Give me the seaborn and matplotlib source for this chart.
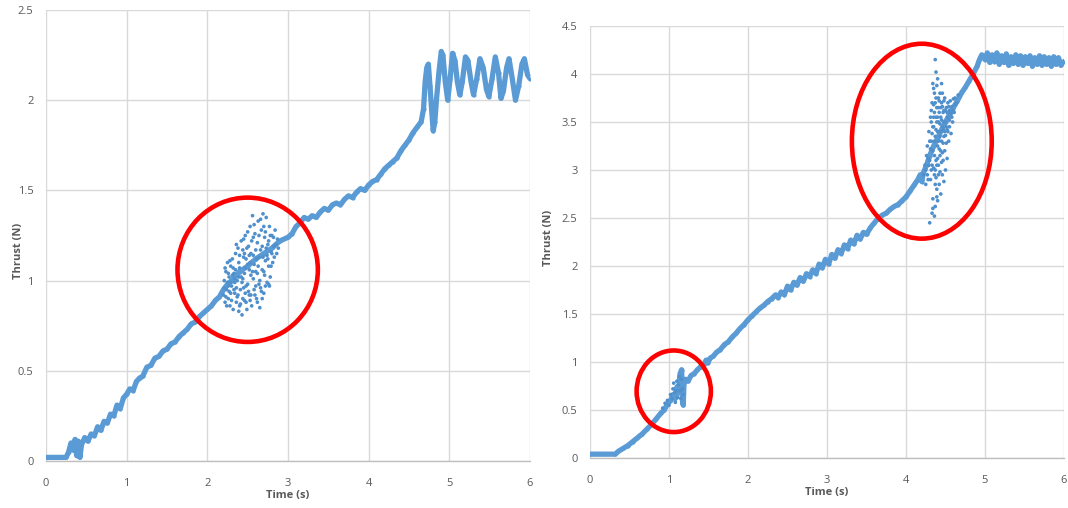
import numpy as np
import pandas as pd
import seaborn as sns
import matplotlib
matplotlib.use("Agg")
import matplotlib.pyplot as plt
from matplotlib.patches import Ellipse

# ---------------- data: left test ----------------
left_t = [0.00, 0.25, 0.28, 0.31, 0.34, 0.36, 0.38, 0.40, 0.42, 0.44, 0.48, 0.52, 0.56, 0.60,
          0.64, 0.68, 0.72, 0.76, 0.80, 0.84, 0.88, 0.92, 0.96, 1.00, 1.04, 1.08, 1.12, 1.16,
          1.20, 1.25, 1.30, 1.35, 1.40, 1.45, 1.50, 1.55, 1.60, 1.65, 1.70, 1.75, 1.80, 1.85,
          1.90, 1.95, 2.00, 2.05, 2.10, 2.15, 2.20, 2.25, 2.30, 2.40, 2.50, 2.60, 2.70, 2.80,
          2.90, 3.00, 3.05, 3.10, 3.15, 3.20, 3.25, 3.30, 3.35, 3.40, 3.45, 3.50, 3.55, 3.60,
          3.65, 3.70, 3.75, 3.80, 3.85, 3.90, 3.95, 4.00, 4.05, 4.10, 4.15, 4.20, 4.25, 4.30,
          4.35, 4.40, 4.45, 4.50, 4.55, 4.60, 4.65, 4.68, 4.70, 4.72, 4.74, 4.76, 4.78, 4.80,
          4.82, 4.84, 4.87, 4.90, 4.92, 4.95, 4.98, 5.01, 5.04, 5.07, 5.10, 5.13, 5.16, 5.20,
          5.23, 5.27, 5.30, 5.34, 5.38, 5.42, 5.46, 5.49, 5.53, 5.57, 5.61, 5.64, 5.67, 5.71,
          5.74, 5.78, 5.82, 5.86, 5.90, 5.93, 5.97, 6.00]
left_y = [0.02, 0.02, 0.05, 0.10, 0.06, 0.12, 0.03, 0.11, 0.02, 0.09, 0.13, 0.11, 0.15, 0.14,
          0.19, 0.17, 0.22, 0.21, 0.26, 0.25, 0.31, 0.29, 0.35, 0.37, 0.40, 0.39, 0.44, 0.46,
          0.47, 0.52, 0.53, 0.57, 0.58, 0.61, 0.62, 0.65, 0.66, 0.69, 0.71, 0.73, 0.76, 0.77,
          0.80, 0.82, 0.84, 0.86, 0.89, 0.91, 0.95, 0.98, 1.00, 1.05, 1.08, 1.12, 1.15, 1.18,
          1.22, 1.24, 1.26, 1.30, 1.32, 1.35, 1.34, 1.36, 1.35, 1.38, 1.40, 1.39, 1.42, 1.43,
          1.42, 1.45, 1.47, 1.46, 1.49, 1.51, 1.50, 1.53, 1.55, 1.56, 1.59, 1.62, 1.64, 1.66,
          1.68, 1.72, 1.75, 1.78, 1.82, 1.85, 1.88, 1.95, 2.10, 2.18, 2.20, 2.08, 1.95, 1.83,
          1.88, 2.00, 2.15, 2.27, 2.25, 2.10, 2.00, 2.12, 2.26, 2.22, 2.10, 2.03, 2.10, 2.24,
          2.22, 2.10, 2.03, 2.12, 2.23, 2.18, 2.06, 2.02, 2.12, 2.24, 2.15, 2.01, 2.05, 2.18,
          2.23, 2.12, 2.00, 2.08, 2.20, 2.23, 2.14, 2.12]

left_scatter_t = [2.20, 2.21, 2.22, 2.23, 2.24, 2.25, 2.26, 2.27, 2.28, 2.29, 2.30, 2.31, 2.32, 2.33,
                  2.34, 2.35, 2.36, 2.37, 2.38, 2.39, 2.40, 2.41, 2.42, 2.43, 2.44, 2.45, 2.46, 2.47,
                  2.48, 2.49, 2.50, 2.51, 2.52, 2.53, 2.54, 2.55, 2.56, 2.57, 2.58, 2.59, 2.60, 2.61,
                  2.62, 2.63, 2.64, 2.65, 2.66, 2.67, 2.68, 2.69, 2.70, 2.71, 2.72, 2.73, 2.74, 2.75,
                  2.76, 2.77, 2.78, 2.79, 2.80, 2.81, 2.82, 2.84, 2.86,
                  2.21, 2.23, 2.26, 2.29, 2.32, 2.34, 2.37, 2.39, 2.41, 2.44, 2.46, 2.48, 2.50, 2.52,
                  2.54, 2.57, 2.59, 2.61, 2.63, 2.65, 2.67, 2.69, 2.71, 2.73, 2.75, 2.77, 2.47, 2.53,
                  2.43, 2.36,
                  2.22, 2.24, 2.25, 2.27, 2.28, 2.30, 2.31, 2.33, 2.35, 2.36, 2.38, 2.40, 2.40, 2.42,
                  2.44, 2.45, 2.46, 2.48, 2.49, 2.50, 2.51, 2.52, 2.54, 2.55, 2.56, 2.58, 2.58, 2.60,
                  2.60, 2.62, 2.62, 2.64, 2.64, 2.66, 2.66, 2.68, 2.68, 2.70, 2.70, 2.72, 2.72, 2.74,
                  2.76, 2.76, 2.78, 2.79, 2.80, 2.82, 2.83, 2.85, 2.87, 2.88, 2.53, 2.57, 2.47, 2.45,
                  2.39, 2.34, 2.29, 2.26]
left_scatter_y = [0.92, 1.00, 0.88, 1.05, 0.95, 1.10, 0.90, 1.02, 0.86, 1.08, 0.97, 1.12, 0.84, 1.04,
                  0.93, 1.15, 0.88, 1.00, 1.18, 0.83, 1.07, 0.95, 1.22, 0.81, 1.01, 1.13, 0.89, 1.25,
                  0.97, 0.84, 1.09, 1.19, 0.92, 1.30, 1.03, 0.86, 1.36, 1.14, 0.95, 1.26, 1.05, 0.90,
                  1.21, 1.33, 0.98, 0.85, 1.17, 1.28, 1.06, 1.37, 0.93, 1.24, 1.11, 1.35, 0.99, 1.20,
                  1.08, 1.30, 1.02, 1.16, 1.25, 1.10, 1.19, 1.28, 1.15,
                  0.96, 0.91, 1.04, 0.99, 1.07, 1.01, 0.91, 1.10, 0.87, 1.17, 1.04, 1.12, 0.98, 1.06,
                  1.15, 1.01, 0.92, 1.12, 1.08, 1.00, 0.94, 1.13, 1.03, 1.18, 1.12, 0.97, 0.93, 0.89,
                  0.99, 0.96,
                  1.07, 0.86, 0.99, 0.94, 1.11, 0.89, 1.03, 0.95, 1.06, 1.20, 0.92, 0.86, 1.14, 1.02,
                  0.90, 1.23, 1.15, 0.88, 1.18, 1.27, 0.94, 1.14, 0.92, 1.22, 1.05, 1.31, 1.09, 1.17,
                  0.97, 0.88, 1.04, 1.25, 1.13, 0.96, 1.34, 1.19, 0.90, 1.05, 1.30, 0.97, 1.27, 1.14,
                  1.22, 0.98, 1.25, 1.08, 1.15, 1.24, 1.13, 1.20, 1.23, 1.18, 1.10, 1.24, 1.07, 0.96,
                  1.02, 0.99, 0.93, 0.97]

# ---------------- data: right test ----------------
right_t = [0.00, 0.32, 0.36, 0.42, 0.48, 0.54, 0.60, 0.66, 0.72, 0.78, 0.84, 0.90, 0.94, 0.98,
           1.02, 1.05, 1.08, 1.10, 1.12, 1.14, 1.16, 1.17, 1.18, 1.19, 1.21, 1.24, 1.28, 1.32,
           1.36, 1.40, 1.44, 1.47, 1.49, 1.52, 1.56, 1.60, 1.65, 1.70, 1.75, 1.80, 1.85, 1.90,
           1.95, 2.00, 2.05, 2.10, 2.15, 2.20, 2.25, 2.30, 2.35, 2.38, 2.42, 2.46, 2.50, 2.54,
           2.58, 2.62, 2.66, 2.70, 2.74, 2.78, 2.82, 2.86, 2.90, 2.94, 2.98, 3.02, 3.06, 3.10,
           3.14, 3.18, 3.22, 3.26, 3.30, 3.34, 3.38, 3.42, 3.46, 3.50, 3.55, 3.60, 3.65, 3.70,
           3.75, 3.80, 3.85, 3.90, 3.95, 4.00, 4.05, 4.10, 4.15, 4.18, 4.20, 4.22, 4.26, 4.30,
           4.35, 4.40, 4.45, 4.50, 4.55, 4.60, 4.65, 4.70, 4.75, 4.80, 4.85, 4.90, 4.93, 4.96,
           5.00, 5.03, 5.06, 5.09, 5.12, 5.15, 5.18, 5.21, 5.24, 5.27, 5.30, 5.33, 5.36, 5.39,
           5.42, 5.45, 5.48, 5.51, 5.54, 5.57, 5.60, 5.63, 5.66, 5.69, 5.72, 5.75, 5.78, 5.81,
           5.84, 5.87, 5.90, 5.93, 5.96, 6.00]
right_y = [0.04, 0.04, 0.07, 0.10, 0.13, 0.17, 0.21, 0.25, 0.30, 0.35, 0.41, 0.47, 0.50, 0.56,
           0.60, 0.66, 0.62, 0.74, 0.68, 0.88, 0.92, 0.60, 0.55, 0.78, 0.82, 0.80, 0.86, 0.88,
           0.92, 0.95, 0.97, 1.02, 0.99, 1.04, 1.06, 1.10, 1.13, 1.18, 1.21, 1.26, 1.30, 1.35,
           1.39, 1.44, 1.48, 1.52, 1.56, 1.59, 1.63, 1.66, 1.70, 1.67, 1.73, 1.70, 1.79, 1.75,
           1.83, 1.80, 1.88, 1.84, 1.92, 1.89, 1.96, 1.92, 2.02, 1.98, 2.07, 2.02, 2.12, 2.08,
           2.17, 2.13, 2.22, 2.18, 2.27, 2.23, 2.32, 2.28, 2.35, 2.33, 2.40, 2.45, 2.50, 2.53,
           2.55, 2.59, 2.62, 2.64, 2.68, 2.72, 2.78, 2.84, 2.90, 2.95, 2.88, 2.97, 3.05, 3.15,
           3.25, 3.33, 3.42, 3.50, 3.58, 3.65, 3.72, 3.80, 3.86, 3.93, 4.00, 4.08, 4.15, 4.20,
           4.15, 4.22, 4.12, 4.20, 4.13, 4.22, 4.10, 4.19, 4.12, 4.21, 4.09, 4.18, 4.11, 4.20,
           4.10, 4.19, 4.09, 4.18, 4.11, 4.19, 4.08, 4.17, 4.10, 4.19, 4.09, 4.18, 4.10, 4.17,
           4.08, 4.18, 4.10, 4.17, 4.09, 4.13]

right_scatter_t = [4.22, 4.24, 4.25, 4.26, 4.27, 4.28, 4.29, 4.30, 4.30, 4.31, 4.32, 4.32, 4.33, 4.33,
                   4.34, 4.34, 4.35, 4.35, 4.36, 4.36, 4.37, 4.37, 4.37, 4.38, 4.38, 4.38, 4.39, 4.39,
                   4.40, 4.40, 4.40, 4.41, 4.41, 4.42, 4.42, 4.43, 4.43, 4.44, 4.44, 4.45, 4.45, 4.46,
                   4.46, 4.47, 4.47, 4.48, 4.48, 4.49, 4.49, 4.50, 4.50, 4.51, 4.51, 4.52, 4.52, 4.53,
                   4.53, 4.54, 4.55, 4.55, 4.56, 4.57, 4.57, 4.58, 4.59, 4.60, 4.61, 4.62,
                   4.32, 4.34, 4.36, 4.38, 4.40, 4.42, 4.44, 4.46, 4.48, 4.50, 4.39, 4.41, 4.43, 4.45,
                   4.47, 4.35, 4.33, 4.31, 4.29, 4.37, 4.41, 4.36, 4.39, 4.34,
                   4.25, 4.27, 4.28, 4.30, 4.31, 4.32, 4.33, 4.34, 4.35, 4.36, 4.36, 4.37, 4.38, 4.38,
                   4.39, 4.40, 4.40, 4.41, 4.42, 4.42, 4.43, 4.44, 4.44, 4.45, 4.46, 4.46, 4.47, 4.48,
                   4.48, 4.49, 4.50, 4.51, 4.52, 4.53, 4.54, 4.55, 4.56, 4.58, 4.60, 4.62, 4.64, 4.66,
                   4.35, 4.37, 4.39, 4.41, 4.43, 4.45,
                   0.92, 0.95, 0.98, 1.00, 1.02, 1.04, 1.05, 1.07, 1.08, 1.10, 1.11, 1.12, 1.13, 1.14,
                   1.15, 1.16, 1.17, 1.18, 1.06, 1.09]
right_scatter_y = [2.95, 3.05, 2.85, 3.15, 3.25, 2.90, 3.40, 3.10, 2.45, 3.55, 3.00, 3.30, 2.55, 3.70,
                   3.20, 2.70, 3.85, 3.45, 2.95, 3.60, 4.15, 3.35, 2.62, 4.02, 3.10, 3.75, 2.80, 3.50,
                   3.95, 3.25, 2.68, 3.65, 3.05, 3.40, 2.85, 3.80, 3.15, 3.55, 2.75, 3.30, 3.70, 2.95,
                   3.45, 3.60, 3.10, 3.35, 2.88, 3.75, 3.20, 3.50, 3.00, 3.65, 3.28, 3.42, 3.12, 3.70,
                   3.55, 3.30, 3.62, 3.45, 3.72, 3.38, 3.58, 3.66, 3.50, 3.74, 3.60, 3.68,
                   3.50, 3.90, 3.15, 3.55, 3.40, 3.60, 3.20, 3.80, 3.62, 3.36, 3.05, 3.75, 3.48, 3.08,
                   3.42, 3.02, 3.38, 3.22, 3.05, 2.85, 2.95, 2.52, 2.72, 2.60,
                   3.00, 2.95, 3.12, 3.30, 2.90, 3.62, 3.05, 3.45, 3.68, 3.30, 3.80, 3.00, 3.42, 2.92,
                   3.65, 3.12, 3.55, 3.30, 3.22, 3.72, 2.98, 3.40, 3.65, 3.52, 3.18, 3.66, 3.28, 3.50,
                   3.72, 3.40, 3.62, 3.45, 3.60, 3.40, 3.66, 3.52, 3.60, 3.55, 3.62, 3.75, 3.70, 3.78,
                   3.55, 3.70, 3.88, 3.50, 3.35, 3.90,
                   0.52, 0.57, 0.60, 0.55, 0.66, 0.62, 0.72, 0.68, 0.58, 0.80, 0.63, 0.76, 0.85, 0.70,
                   0.62, 0.82, 0.72, 0.66, 0.78, 0.70]

# annotation circles: (centre t, centre thrust, width s, height N)
left_circles = [(2.50, 1.06, 1.74, 0.80)]
right_circles = [(1.06, 0.695, 0.94, 0.85), (4.20, 3.30, 1.77, 2.03)]

x_ticks = [0, 1, 2, 3, 4, 5, 6]
left_y_ticks = [0, 0.5, 1, 1.5, 2, 2.5]
right_y_ticks = [0, 0.5, 1, 1.5, 2, 2.5, 3, 3.5, 4, 4.5]
x_label = "Time (s)"
y_label = "Thrust (N)"

# ---------------- drawing ----------------
sns.set_theme(style="white")
plt.rcParams['font.family'] = ['Open Sans', 'DejaVu Sans']

BLUE = "#5B9BD5"
GRID = "#d9d9d9"
TXT = "#595959"

fig = plt.figure(figsize=(10.68, 5.08), dpi=100)
axL = fig.add_axes([46 / 1068, 1 - 461 / 508, (530 - 46) / 1068, (461 - 10) / 508])
axR = fig.add_axes([590 / 1068, 1 - 458 / 508, (1064 - 590) / 1068, (458 - 26) / 508])


def draw(ax, t, y, st, sy, circles, yticks, ylab_xy):
    df = pd.DataFrame({"t": t, "y": y})
    sdf = pd.DataFrame({"t": st, "y": sy})
    sns.lineplot(data=df, x="t", y="y", ax=ax, sort=False, estimator=None,
                 color=BLUE, lw=3.8, marker="o", markersize=3,
                 markeredgewidth=0, zorder=3)
    sns.scatterplot(data=sdf, x="t", y="y", ax=ax, color="#4f8fcc", s=7,
                    edgecolor="none", zorder=3)
    for (cx, cy, w, h) in circles:
        ax.add_patch(Ellipse((cx, cy), w, h, fill=False, edgecolor="#ff0000",
                             lw=3.3, zorder=5, clip_on=False))
    ax.set_xlim(0, 6)
    ax.set_ylim(0, yticks[-1])
    ax.set_xticks(x_ticks)
    ax.set_xticklabels([str(v) for v in x_ticks])
    ax.set_yticks(yticks)
    ax.set_yticklabels([("%g" % v) for v in yticks])
    ax.grid(True, color=GRID, lw=1)
    ax.set_axisbelow(True)
    for s in ["top", "right", "left"]:
        ax.spines[s].set_visible(False)
    ax.spines["bottom"].set_color("#bfbfbf")
    ax.spines["bottom"].set_linewidth(1)
    ax.tick_params(axis="y", length=0, labelsize=8, colors=TXT, pad=9)
    ax.tick_params(axis="x", length=0, labelsize=8, colors=TXT, pad=12)
    ax.set_xlabel(x_label, fontsize=8, color=TXT, fontweight="bold", labelpad=1)
    ax.set_ylabel(y_label, fontsize=8, color=TXT, fontweight="bold")
    ax.yaxis.set_label_coords(*ylab_xy)


draw(axL, left_t, left_y, left_scatter_t, left_scatter_y, left_circles, left_y_ticks,
     (-0.045, 0.466))
draw(axR, right_t, right_y, right_scatter_t, right_scatter_y, right_circles, right_y_ticks,
     (-0.076, 0.51))

fig.savefig("out.png", dpi=100)
